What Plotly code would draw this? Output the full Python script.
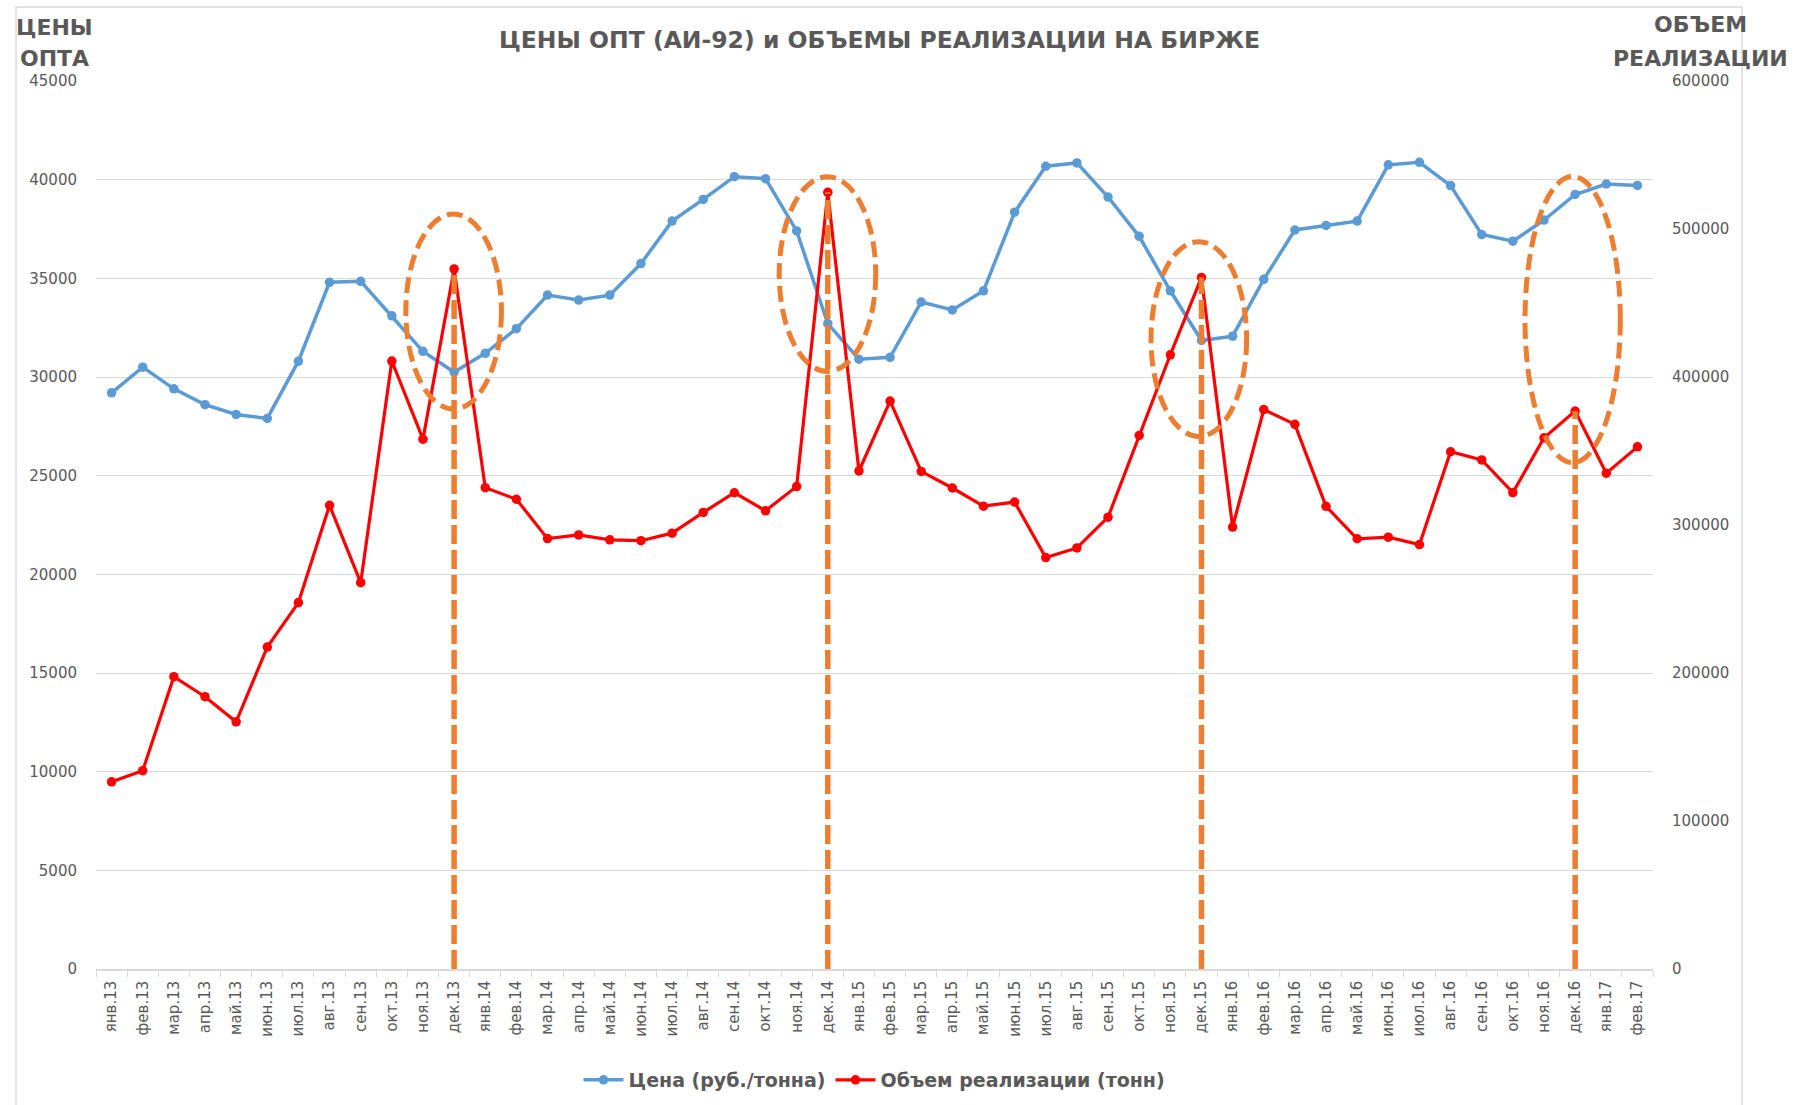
import plotly.graph_objects as go

months = ["янв.13", "фев.13", "мар.13", "апр.13", "май.13", "июн.13", "июл.13", "авг.13", "сен.13", "окт.13", "ноя.13", "дек.13",
          "янв.14", "фев.14", "мар.14", "апр.14", "май.14", "июн.14", "июл.14", "авг.14", "сен.14", "окт.14", "ноя.14", "дек.14",
          "янв.15", "фев.15", "мар.15", "апр.15", "май.15", "июн.15", "июл.15", "авг.15", "сен.15", "окт.15", "ноя.15", "дек.15",
          "янв.16", "фев.16", "мар.16", "апр.16", "май.16", "июн.16", "июл.16", "авг.16", "сен.16", "окт.16", "ноя.16", "дек.16",
          "янв.17", "фев.17"]

price = [29200, 30500, 29400, 28600, 28100, 27900, 30800, 34800, 34850, 33100,
         31300, 30250, 31200, 32450, 34150, 33900, 34150, 35750, 37900, 39000,
         40150, 40050, 37400, 32700, 30900, 31000, 33800, 33400, 34370, 38350,
         40680, 40850, 39120, 37130, 34370, 31850, 32070, 34950, 37450, 37680,
         37900, 40750, 40880, 39700, 37220, 36880, 37950, 39250, 39780, 39710]

volume = [126500, 134000, 197500, 184000, 167000, 217500, 247600, 313300, 261000, 410800,
          358000, 473000, 325200, 317400, 290800, 293300, 290000, 289400, 294500, 308500,
          321800, 309600, 326000, 524800, 336500, 383700, 336200, 325000, 312700, 315500,
          278000, 284500, 305300, 360500, 415000, 467300, 298600, 378000, 368000, 312600,
          290700, 291800, 286800, 349500, 344000, 321900, 358900, 377000, 335000, 352800]

highlight_months = ["дек.13", "дек.14", "дек.15", "дек.16"]

price_name = "Цена (руб./тонна)"
volume_name = "Объем реализации (тонн)"
title_text = "ЦЕНЫ ОПТ (АИ-92) и ОБЪЕМЫ РЕАЛИЗАЦИИ НА БИРЖЕ"
left_title = ["ЦЕНЫ", "ОПТА"]
right_title = ["ОБЪЕМ", "РЕАЛИЗАЦИИ"]

# ---- layout geometry (pixels) ----
FW, FH = 1795, 1105
L, R, T, B = 96, 1653, 81, 969
W, H = R - L, B - T


def px(x):
    return (x - L) / W


def py(y):
    return (B - y) / H


GREY = "#595959"
GRID = "#D9D9D9"
BLUE = "#5B9BD5"
RED = "#FF0000"
ORANGE = "#ED7D31"
FONT = "DejaVu Sans"

fig = go.Figure()
fig.add_trace(go.Scatter(x=months, y=price, name=price_name, mode="lines+markers",
                         line=dict(color=BLUE, width=3.5),
                         marker=dict(color=BLUE, size=9.5), yaxis="y"))
fig.add_trace(go.Scatter(x=months, y=volume, name=volume_name, mode="lines+markers",
                         line=dict(color=RED, width=3.2),
                         marker=dict(color=RED, size=9.5), yaxis="y2"))

shapes = []
# chart-area border
shapes.append(dict(type="rect", xref="paper", yref="paper",
                   x0=px(16), x1=px(1742), y0=py(1130), y1=py(7),
                   line=dict(color=GRID, width=1.5), layer="below"))

# vertical dashed drop lines from the volume peaks
for m in highlight_months:
    v = volume[months.index(m)]
    shapes.append(dict(type="line", xref="x", yref="y2", x0=m, x1=m, y0=0, y1=v,
                       line=dict(color=ORANGE, width=5.5, dash="19px,6px"), layer="above"))

# dashed ellipses (category index / price-axis units)
ellipses = [
    (9.45, 12.52, 28380, 38260),
    (21.44, 24.54, 30280, 40150),
    (33.38, 36.45, 26990, 36860),
    (45.39, 48.45, 25660, 40160),
]
for x0, x1, y0, y1 in ellipses:
    shapes.append(dict(type="circle", xref="x", yref="y", x0=x0, x1=x1, y0=y0, y1=y1,
                       line=dict(color=ORANGE, width=5, dash="16px,7px"), layer="above"))

annotations = []


def text_at(x, y, s, size, bold=True):
    annotations.append(dict(xref="paper", yref="paper", x=px(x), y=py(y), text=s,
                            showarrow=False, xanchor="center", yanchor="middle",
                            font=dict(family=FONT, size=size, color=GREY,
                                      weight="bold" if bold else "normal")))


text_at(879, 40, title_text, 23.5)
text_at(54, 27, left_title[0], 22)
text_at(54, 59, left_title[1], 22)
text_at(1700, 25, right_title[0], 22)
text_at(1700, 58, right_title[1], 22)

fig.update_layout(
    width=FW, height=FH,
    margin=dict(l=L, r=FW - R, t=T, b=FH - B, autoexpand=False),
    paper_bgcolor="white", plot_bgcolor="white",
    font=dict(family=FONT, color=GREY),
    showlegend=True,
    legend=dict(orientation="h", x=0.5, xanchor="center", y=py(1080), yanchor="middle",
                font=dict(family=FONT, size=19, color=GREY, weight="bold"),
                itemwidth=40, bgcolor="rgba(0,0,0,0)"),
    xaxis=dict(type="category", range=[-0.5, len(months) - 0.5],
               tickangle=-90, tickfont=dict(family=FONT, size=15, color=GREY),
               showgrid=False, showline=True, linecolor=GRID, linewidth=1.5,
               ticks="outside", tickson="boundaries", ticklen=6, tickcolor=GRID,
               ticklabelstandoff=4, fixedrange=True),
    yaxis=dict(range=[0, 45000], dtick=5000, tickformat="d", showgrid=True,
               gridcolor=GRID, gridwidth=1.2,
               zeroline=False, showline=False, ticks="",
               tickfont=dict(family=FONT, size=15, color=GREY), ticklabelstandoff=18),
    yaxis2=dict(range=[0, 600000], dtick=100000, tickformat="d", overlaying="y", side="right",
                showgrid=False, zeroline=False, showline=False, ticks="",
                tickfont=dict(family=FONT, size=15, color=GREY), ticklabelstandoff=18),
    shapes=shapes,
    annotations=annotations,
)

fig.write_html("out.html", config={"displayModeBar": False},
               post_script="document.body.style.margin='0';document.body.style.overflow='hidden';")
